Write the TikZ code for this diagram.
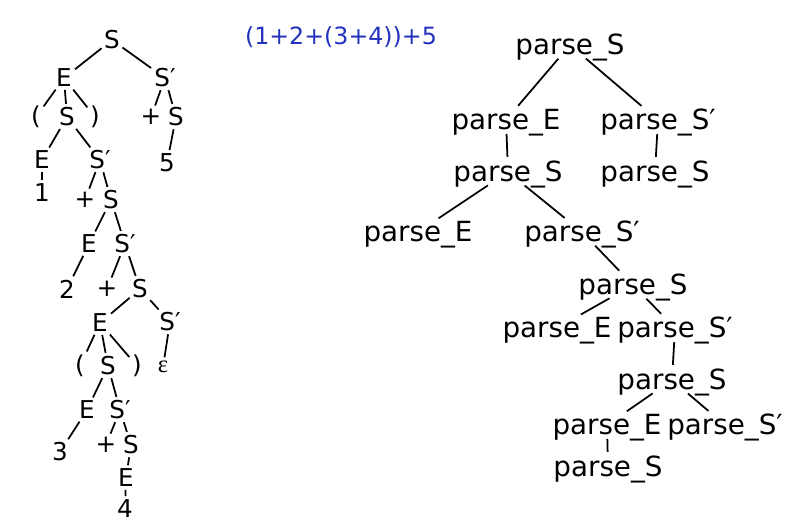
\documentclass[tikz,border=0pt]{standalone}
\usepackage{fontspec}
\setmainfont{DejaVu Sans}
\newfontfamily\epsfont{Liberation Serif}
\usepackage{tikz}
\definecolor{exprblue}{RGB}{35,50,190}

\begin{document}
\begin{tikzpicture}[x=0.02cm,y=-0.02cm,
  sym/.style={font=\fontsize{14}{16}\selectfont,inner sep=0.5pt},
  call/.style={font=\fontsize{15.8}{18}\selectfont,inner sep=0.5pt,text depth=0.1em},
  tline/.style={line width=1pt,shorten <=1pt,shorten >=1.5pt}]
\useasboundingbox (0,0) rectangle (793,530);
% expression
\node[font=\fontsize{13.5}{15}\selectfont,text=exprblue] (expr) at (341,37) {(1+2+(3+4))+5};
% parse tree
\node[sym] (l1) at (112,40) {S};
\node[sym] (l2) at (64,78) {E};
\node[sym] (l3) at (165,78) {S′};
\node[sym] (l4) at (36,117) {(};
\node[sym] (l5) at (67,117) {S};
\node[sym] (l6) at (95,117) {)};
\node[sym] (l7) at (151,117) {+};
\node[sym] (l8) at (176,117) {S};
\node[sym] (l9) at (167,163) {5};
\node[sym] (l10) at (42,160) {E};
\node[sym] (l11) at (100,160) {S′};
\node[sym] (l12) at (42,193) {1};
\node[sym] (l13) at (85,200) {+};
\node[sym] (l14) at (111,200) {S};
\node[sym] (l15) at (89,244) {E};
\node[sym] (l16) at (125,244) {S′};
\node[sym] (l17) at (67,289) {2};
\node[sym] (l18) at (107,289) {+};
\node[sym] (l19) at (140,289) {S};
\node[sym] (l20) at (100,323) {E};
\node[sym] (l21) at (170,322) {S′};
\node[sym] (l22) at (80,366) {(};
\node[sym] (l23) at (108,366) {S};
\node[sym] (l24) at (137,366) {)};
\node[sym] (l25) at (163,367) {\epsfont ε};
\node[sym] (l26) at (87,410) {E};
\node[sym] (l27) at (120,410) {S′};
\node[sym] (l28) at (60,452) {3};
\node[sym] (l29) at (106,445) {+};
\node[sym] (l30) at (131,445) {S};
\node[sym] (l31) at (126,478) {E};
\node[sym] (l32) at (125,509) {4};
\draw[tline] (l1) -- (l2);
\draw[tline] (l1) -- (l3);
\draw[tline] (l2) -- (l4);
\draw[tline] (l2) -- (l5);
\draw[tline] (l2) -- (l6);
\draw[tline] (l3) -- (l7);
\draw[tline] (l3) -- (l8);
\draw[tline] (l8) -- (l9);
\draw[tline] (l5) -- (l10);
\draw[tline] (l5) -- (l11);
\draw[tline] (l10) -- (l12);
\draw[tline] (l11) -- (l13);
\draw[tline] (l11) -- (l14);
\draw[tline] (l14) -- (l15);
\draw[tline] (l14) -- (l16);
\draw[tline] (l15) -- (l17);
\draw[tline] (l16) -- (l18);
\draw[tline] (l16) -- (l19);
\draw[tline] (l19) -- (l20);
\draw[tline] (l19) -- (l21);
\draw[tline] (l20) -- (l22);
\draw[tline] (l20) -- (l23);
\draw[tline] (l20) -- (l24);
\draw[tline] (l21) -- (l25);
\draw[tline] (l23) -- (l26);
\draw[tline] (l23) -- (l27);
\draw[tline] (l26) -- (l28);
\draw[tline] (l27) -- (l29);
\draw[tline] (l27) -- (l30);
\draw[tline] (l30) -- (l31);
\draw[tline] (l31) -- (l32);
% call tree
\node[call] (r1) at (570,45) {parse\_S};
\node[call] (r2) at (506,120) {parse\_E};
\node[call] (r3) at (658,120) {parse\_S′};
\node[call] (r4) at (508,172) {parse\_S};
\node[call] (r5) at (655,172) {parse\_S};
\node[call] (r6) at (418,232) {parse\_E};
\node[call] (r7) at (582,232) {parse\_S′};
\node[call] (r8) at (633,285) {parse\_S};
\node[call] (r9) at (557,328) {parse\_E};
\node[call] (r10) at (675,328) {parse\_S′};
\node[call] (r11) at (672,380) {parse\_S};
\node[call] (r12) at (607,425) {parse\_E};
\node[call] (r13) at (725,425) {parse\_S′};
\node[call] (r14) at (608,467) {parse\_S};
\draw[tline] (r1) -- (r2);
\draw[tline] (r1) -- (r3);
\draw[tline] (r2) -- (r4);
\draw[tline] (r3) -- (r5);
\draw[tline] (r4) -- (r6);
\draw[tline] (r4) -- (r7);
\draw[tline] (r7) -- (r8);
\draw[tline] (r8) -- (r9);
\draw[tline] (r8) -- (r10);
\draw[tline] (r10) -- (r11);
\draw[tline] (r11) -- (r12);
\draw[tline] (r11) -- (r13);
\draw[tline] (r12) -- (r14);
\end{tikzpicture}
\end{document}
